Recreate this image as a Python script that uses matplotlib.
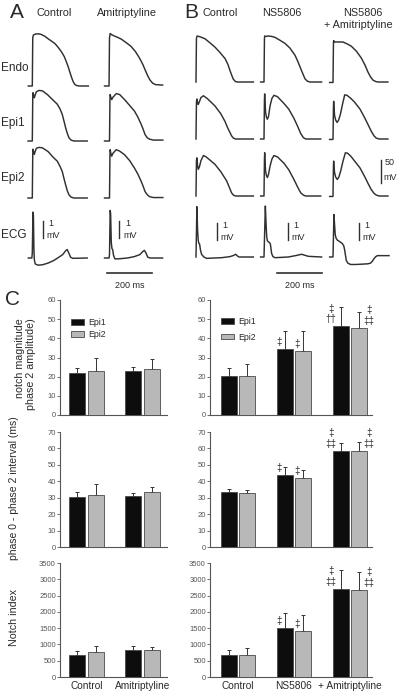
import matplotlib
matplotlib.use("Agg")
import matplotlib.pyplot as plt
from matplotlib.patches import Patch
import numpy as np

plt.rcParams['font.family'] = ['Liberation Sans', 'DejaVu Sans']

# ---- action potential traces, (ms from upstroke, mV) ----
a_ctrl_endo = [(-18, -85), (0, -85), (2, 20), (5, 26), (15, 28), (27, 28.5), (40, 27), (56, 23), (75, 16),
               (90, 11), (101, 7), (115, -1), (130, -11), (142, -21), (152, -33), (160, -44), (167, -55),
               (175, -67), (182, -76), (190, -82), (197, -84), (210, -85), (249, -85)]
a_ami_endo = [(-22, -85), (-2, -85), (0, 20), (3, 29), (8, 27), (20, 24), (35, 21), (52, 17), (75, 9),
              (96, 1), (115, -10), (133, -24), (148, -38), (160, -52), (170, -63), (180, -72), (192, -79),
              (205, -82), (236, -83)]
a_ctrl_epi1 = [(-19, -85), (0, -85), (2, 10), (3, 20), (6, 14), (9, 9), (12, 14), (18, 22), (30, 25),
               (45, 24), (67, 16), (90, 5), (111, -5), (123, -15), (133, -27), (141, -42), (148, -56),
               (156, -69), (163, -78), (172, -83), (185, -85), (244, -85)]
a_ami_epi1 = [(-22, -85), (0, -85), (2, 5), (3, 16), (6, 10), (10, 5), (15, 10), (30, 18), (45, 16),
              (67, 5), (90, -8), (111, -20), (126, -33), (141, -49), (150, -60), (158, -71), (168, -78),
              (178, -81), (195, -83), (237, -83)]
a_ctrl_epi2 = [(-19, -85), (0, -85), (2, 10), (3, 21), (6, 15), (9, 10), (12, 15), (18, 23), (30, 25),
               (45, 24), (70, 16), (92, 4), (111, -5), (123, -16), (133, -27), (141, -43), (148, -56),
               (156, -70), (163, -78), (172, -83), (185, -85), (244, -85)]
a_ami_epi2 = [(-22, -85), (0, -85), (2, 8), (3, 20), (6, 12), (10, 6), (15, 12), (30, 20), (45, 17),
              (67, 9), (90, -4), (111, -20), (126, -33), (141, -49), (150, -60), (158, -71), (168, -78),
              (178, -82), (195, -84), (237, -84)]
a_ctrl_ecg = [(-18, 0), (-2, 0), (0, 0.3), (3, 2.7), (5, 2.5), (7, 0.6), (9, -0.1), (13, -0.35), (25, -0.42),
              (45, -0.4), (70, -0.3), (95, -0.15), (115, 0.02), (135, 0.2), (148, 0.42), (155, 0.5),
              (162, 0.3), (170, 0.05), (180, -0.02), (244, 0)]
a_ami_ecg = [(-22, 0), (-2, 0), (0, 0.2), (3, 2.8), (5, 2.6), (8, 0.9), (11, 0.55), (14, 0.5), (18, 0.15),
             (24, -0.05), (40, -0.05), (80, 0), (110, 0.08), (135, 0.2), (148, 0.38), (155, 0.45),
             (162, 0.3), (170, 0.05), (180, 0), (236, 0)]

b_ctrl_endo = [(0, -85), (2, 10), (5, 15), (13, 14), (25, 12), (40, 9), (60, 1), (84, -9), (105, -20),
               (129, -34), (142, -47), (151, -60), (160, -72), (166, -79), (175, -84), (185, -85), (255, -85)]
b_ns_endo = [(-15, -85), (0, -85), (2, 10), (3, 15), (8, 14), (19, 15), (35, 14), (49, 12), (70, 6), (93, -1),
             (115, -11), (138, -27), (150, -40), (160, -52), (170, -64), (182, -78), (192, -83), (204, -85),
             (256, -85)]
b_nsami_endo = [(-15, -86), (0, -86), (2, 0), (3, 5), (6, 2), (15, 2), (30, 2), (44, 2), (62, -2), (81, -7),
                (104, -18), (126, -33), (142, -48), (155, -63), (167, -74), (178, -81), (190, -84),
                (200, -85), (244, -85)]
b_ctrl_epi1 = [(0, -85), (2, -5), (4, 2), (7, -6), (10, -10), (15, -4), (22, 5), (33, 9), (50, 3), (84, -13),
               (110, -30), (129, -47), (140, -60), (150, -70), (158, -78), (166, -83), (175, -85), (255, -85)]
b_ns_epi1 = [(-15, -85), (0, -85), (2, 0), (3, 13), (5, -10), (7, -27), (11, -38), (15, -42), (20, -36),
             (27, -13), (35, 3), (44, 10), (60, 7), (89, -8), (110, -20), (133, -40), (150, -58), (163, -73),
             (175, -82), (185, -85), (252, -85)]
b_nsami_epi1 = [(-15, -86), (0, -86), (2, -15), (3, -3), (5, -20), (7, -34), (12, -44), (18, -49), (25, -44),
                (33, -31), (42, -10), (52, 11), (62, 10), (80, 3), (96, -5), (120, -20), (141, -39),
                (156, -54), (170, -68), (182, -78), (192, -83), (205, -85), (244, -85)]
b_ctrl_epi2 = [(0, -85), (2, -8), (4, -2), (7, -18), (10, -27), (15, -22), (22, -8), (33, 3), (45, 0),
               (84, -16), (110, -32), (136, -52), (148, -66), (158, -78), (166, -83), (175, -85), (255, -85)]
b_ns_epi2 = [(-15, -85), (0, -85), (2, -5), (3, 9), (5, -15), (7, -31), (11, -41), (15, -45), (20, -38),
             (27, -20), (35, -5), (44, 3), (60, 0), (89, -14), (110, -28), (133, -49), (150, -66), (163, -78),
             (175, -83), (185, -85), (252, -85)]
b_nsami_epi2 = [(-15, -86), (0, -86), (2, -20), (3, -9), (5, -25), (7, -34), (12, -44), (19, -49), (26, -44),
                (34, -31), (44, -10), (55, 9), (65, 8), (80, 1), (96, -9), (120, -24), (141, -43), (156, -58),
                (170, -71), (182, -79), (192, -83), (205, -85), (244, -85)]
b_ctrl_ecg = [(0, 0), (2, 1.5), (4, 2.96), (7, 1.6), (10, 0.96), (13, 0.8), (16, 0.76), (20, 0.4), (25, 0.15),
              (35, 0), (47, -0.08), (80, -0.06), (114, -0.04), (150, 0.02), (165, 0.08), (176, 0.16),
              (185, 0.05), (191, 0), (255, 0)]
b_ns_ecg = [(-15, 0), (0, 0), (3, 1.5), (6, 3.0), (9, 2.0), (12, 1.2), (15, 0.95), (19, 0.9), (24, 0.85),
            (28, 0.78), (31, 0.5), (34, 0.2), (40, 0.02), (49, -0.04), (80, -0.02), (108, 0), (140, 0.08),
            (167, 0.16), (182, 0.1), (197, 0.04), (256, 0)]
b_nsami_ecg = [(-15, 0), (0, 0), (2, 1.2), (4, 2.5), (7, 1.9), (10, 1.3), (14, 1.1), (19, 1.0), (30, 0.9),
               (41, 0.8), (48, 0.65), (52, 0.4), (56, 0.05), (59, -0.2), (66, -0.36), (78, -0.44), (100, -0.44),
               (130, -0.42), (155, -0.4), (167, -0.36), (175, -0.25), (182, -0.1), (190, 0.02), (197, 0.08),
               (249, 0.08)]

# ---- panel C bar data (mean, SEM up) ----
groups_a = ["Control", "Amitriptyline"]
groups_b = ["Control", "NS5806", "+ Amitriptyline"]

notch_a_epi1 = [22.1, 23.0]
notch_a_epi1_err = [2.5, 2.2]
notch_a_epi2 = [23.1, 24.0]
notch_a_epi2_err = [6.5, 5.0]
notch_b_epi1 = [20.5, 34.4, 46.2]
notch_b_epi1_err = [3.8, 9.6, 10.1]
notch_b_epi2 = [20.5, 33.4, 45.6]
notch_b_epi2_err = [5.9, 10.6, 7.9]

interval_a_epi1 = [30.2, 31.2]
interval_a_epi1_err = [3.5, 1.9]
interval_a_epi2 = [31.6, 33.3]
interval_a_epi2_err = [6.8, 3.4]
interval_b_epi1 = [33.3, 43.9, 58.4]
interval_b_epi1_err = [2.0, 4.5, 4.9]
interval_b_epi2 = [32.7, 42.2, 58.4]
interval_b_epi2_err = [2.0, 4.7, 5.5]

index_a_epi1 = [690, 830]
index_a_epi1_err = [110, 120]
index_a_epi2 = [760, 830]
index_a_epi2_err = [200, 100]
index_b_epi1 = [690, 1510, 2690]
index_b_epi1_err = [140, 450, 580]
index_b_epi2 = [680, 1420, 2670]
index_b_epi2_err = [210, 490, 550]

notch_marks_epi1 = ["", "‡", "‡\n††"]
notch_marks_epi2 = ["", "‡", "‡\n‡‡"]
interval_marks_epi1 = ["", "‡", "‡\n‡‡"]
interval_marks_epi2 = ["", "‡", "‡\n‡‡"]
index_marks_epi1 = ["", "‡", "‡\n‡‡"]
index_marks_epi2 = ["", "‡", "‡\n‡‡"]

W, H = 400, 695
MS_PX = 200 / 45.0   # ms per pixel
MV_PX = 50 / 23.0    # mV per pixel (AP)
ECG_PX = 1 / 17.0    # mV per pixel (ECG)
TRACE_C = '#303030'
TEXT_C = '#2a2a2a'

fig = plt.figure(figsize=(4, 6.95), dpi=100)


def fx(x):
    return x / W


def fy(y):
    return 1 - y / H


def trace(x_up, y_rest, pts, ecg=False):
    t0, t1 = -25, 265
    if ecg:
        lo, hi, rest, scale = -1.6, 3.6, 0, ECG_PX
    else:
        lo, hi, rest, scale = -100, 40, -85, MV_PX
    x0 = x_up + t0 / MS_PX
    x1 = x_up + t1 / MS_PX
    ybot = y_rest + (rest - lo) / scale
    ytop = y_rest - (hi - rest) / scale
    ax = fig.add_axes([fx(x0), fy(ybot), (x1 - x0) / W, (ybot - ytop) / H])
    ax.set_xlim(t0, t1)
    ax.set_ylim(lo, hi)
    ax.axis('off')
    ax.patch.set_alpha(0)
    t, v = zip(*pts)
    ax.plot(t, v, color=TRACE_C, lw=1.05, solid_joinstyle='round', clip_on=False)
    return ax


# panel A / B traces: upstroke x and resting-line y, in pixels
cols_a = [32.3, 109.5]
rows_a = [86, 141, 198, 258]
cols_b = [196, 264, 333]
rows_b = [82, 139, 196, 257]

a_sets = [[a_ctrl_endo, a_ctrl_epi1, a_ctrl_epi2, a_ctrl_ecg],
          [a_ami_endo, a_ami_epi1, a_ami_epi2, a_ami_ecg]]
b_sets = [[b_ctrl_endo, b_ctrl_epi1, b_ctrl_epi2, b_ctrl_ecg],
          [b_ns_endo, b_ns_epi1, b_ns_epi2, b_ns_ecg],
          [b_nsami_endo, b_nsami_epi1, b_nsami_epi2, b_nsami_ecg]]

ecg_axes = {}
ap_axes = {}
for cols, rows, sets, tag in [(cols_a, rows_a, a_sets, 'a'), (cols_b, rows_b, b_sets, 'b')]:
    for ci, xu in enumerate(cols):
        for ri, yr in enumerate(rows):
            ax = trace(xu, yr, sets[ci][ri], ecg=(ri == 3))
            if ri == 3:
                ecg_axes[(tag, ci)] = ax
            else:
                ap_axes[(tag, ci, ri)] = ax

# 1 mV scale bars
mv_bars = [(('a', 0), 47, 1.2), (('a', 1), 44, 1.2), (('b', 0), 92, 1.0), (('b', 1), 105, 1.0), (('b', 2), 115, 1.0)]
for key, t, y0 in mv_bars:
    ax = ecg_axes[key]
    ax.plot([t, t], [y0, y0 + 1], color=TRACE_C, lw=1.0, clip_on=False)
    ax.text(t + 36, y0 + 0.85, "1", fontsize=6.5, ha='center', va='center', color=TEXT_C)
    ax.text(t + 16, y0 + 0.15, "mV", fontsize=6.5, ha='left', va='center', color=TEXT_C)

# 200 ms scale bars
ax = ecg_axes[('a', 1)]
ax.plot([-9, 191], [-0.9, -0.9], color=TRACE_C, lw=1.2, clip_on=False)
ax.text(91, -1.6, "200 ms", fontsize=6.5, ha='center', va='center', color=TEXT_C)
ax = ecg_axes[('b', 1)]
ax.plot([58, 258], [-0.94, -0.94], color=TRACE_C, lw=1.2, clip_on=False)
ax.text(158, -1.65, "200 ms", fontsize=6.5, ha='center', va='center', color=TEXT_C)

# 50 mV scale bar
ax = ap_axes[('b', 2, 2)]
ax.plot([213, 213], [-57, -7], color=TRACE_C, lw=1.0, clip_on=False)
ax.text(253, -13, "50", fontsize=6.5, ha='center', va='center', color=TEXT_C)
ax.text(253, -45, "mV", fontsize=6.5, ha='center', va='center', color=TEXT_C)

# headers and row labels
fig.text(fx(17), fy(12), "A", fontsize=15, ha='center', va='center', color=TEXT_C)
fig.text(fx(191), fy(12), "B", fontsize=15, ha='center', va='center', color=TEXT_C)
fig.text(fx(12), fy(299), "C", fontsize=15, ha='center', va='center', color=TEXT_C)
for x, s in [(54, "Control"), (127, "Amitriptyline"), (220, "Control"), (282, "NS5806"), (363, "NS5806")]:
    fig.text(fx(x), fy(13), s, fontsize=7.8, ha='center', va='center', color=TEXT_C)
fig.text(fx(358), fy(25), "+ Amitriptyline", fontsize=7.8, ha='center', va='center', color=TEXT_C)
for y, s in [(68, "Endo"), (123, "Epi1"), (178, "Epi2"), (235, "ECG")]:
    fig.text(fx(1), fy(y), s, fontsize=8.5, ha='left', va='center', color=TEXT_C)

# ---- panel C ----
EPI1_C = '#0d0d0d'
EPI2_C = '#b8b8b8'
EDGE_C = '#4a4a4a'
AX_C = '#555555'
GROUP_PX = 56.0   # pixels between group centres


def bar_panel(rect, first_px, groups, v1, e1, v2, e2, ymax, step, m1=None, m2=None, xlabels=False):
    x0, x1, ytop, ybot = rect
    ax = fig.add_axes([fx(x0), fy(ybot), (x1 - x0) / W, (ybot - ytop) / H])
    pos = np.arange(len(groups))
    off, bw = 0.166, 0.285
    ax.bar(pos - off, v1, width=bw, color=EPI1_C, edgecolor=EDGE_C, linewidth=0.6, zorder=3)
    ax.bar(pos + off, v2, width=bw, color=EPI2_C, edgecolor=EDGE_C, linewidth=0.6, zorder=3)
    for xs, vs, es in [(pos - off, v1, e1), (pos + off, v2, e2)]:
        ax.errorbar(xs, vs, yerr=[np.zeros(len(es)), es], fmt='none', ecolor='#333333',
                    elinewidth=0.7, capsize=1.6, capthick=0.7, zorder=2)
    for marks, xs, vs, series in [(m1, pos - off, v1, 1), (m2, pos + off, v2, 2)]:
        if marks is None:
            continue
        for gi, s in enumerate(marks):
            if not s:
                continue
            wide = max(len(p) for p in s.split("\n")) > 1
            dx = 9.5 if wide else 6.0
            side = 1 if (series == 2 and gi == len(groups) - 1) else -1
            ax.annotate(s, (xs[gi], vs[gi]), xytext=(side * dx * 0.72, 1.5), textcoords='offset points',
                        ha='center', va='bottom', fontsize=7, color=TEXT_C, linespacing=1.1,
                        annotation_clip=False)
    ax.set_ylim(0, ymax)
    ax.set_yticks(np.arange(0, ymax + step / 2, step))
    ax.set_xlim((x0 - first_px) / GROUP_PX, (x1 - first_px) / GROUP_PX)
    ax.set_xticks(pos)
    if xlabels:
        ax.set_xticklabels(groups, fontsize=7.3, color=TEXT_C)
    else:
        ax.set_xticklabels([])
    for sp in ['top', 'right']:
        ax.spines[sp].set_visible(False)
    for sp in ['left', 'bottom']:
        ax.spines[sp].set_color(AX_C)
        ax.spines[sp].set_linewidth(0.8)
    ax.tick_params(axis='y', direction='out', length=2, width=0.6, colors=AX_C, labelsize=5.5, pad=1)
    ax.tick_params(axis='x', length=0, pad=3)
    return ax


def add_legend(ax, anchor, spacing):
    ax.legend(handles=[Patch(facecolor=EPI1_C, edgecolor=EDGE_C, lw=0.6, label="Epi1"),
                       Patch(facecolor=EPI2_C, edgecolor=EDGE_C, lw=0.6, label="Epi2")],
              loc='upper left', bbox_to_anchor=anchor, frameon=False, fontsize=6.3,
              handlelength=1.5, handleheight=0.6, handletextpad=0.5, labelspacing=spacing,
              borderpad=0, labelcolor=TEXT_C)


rows_c = [(300, 415), (432, 547), (563, 677)]
left_x = (60, 167)
right_x = (210, 372)

ax = bar_panel((*left_x, *rows_c[0]), 86.5, groups_a, notch_a_epi1, notch_a_epi1_err,
               notch_a_epi2, notch_a_epi2_err, 60, 10)
add_legend(ax, (0.06, 0.88), 0.35)
ax = bar_panel((*right_x, *rows_c[0]), 238, groups_b, notch_b_epi1, notch_b_epi1_err,
               notch_b_epi2, notch_b_epi2_err, 60, 10, notch_marks_epi1, notch_marks_epi2)
add_legend(ax, (0.04, 0.89), 0.75)

bar_panel((*left_x, *rows_c[1]), 86.5, groups_a, interval_a_epi1, interval_a_epi1_err,
          interval_a_epi2, interval_a_epi2_err, 70, 10)
bar_panel((*right_x, *rows_c[1]), 238, groups_b, interval_b_epi1, interval_b_epi1_err,
          interval_b_epi2, interval_b_epi2_err, 70, 10, interval_marks_epi1, interval_marks_epi2)

bar_panel((*left_x, *rows_c[2]), 86.5, groups_a, index_a_epi1, index_a_epi1_err,
          index_a_epi2, index_a_epi2_err, 3500, 500, xlabels=True)
bar_panel((*right_x, *rows_c[2]), 238, groups_b, index_b_epi1, index_b_epi1_err,
          index_b_epi2, index_b_epi2_err, 3500, 500, index_marks_epi1, index_marks_epi2, xlabels=True)

# y labels
fig.text(fx(25.5), fy(318), "notch magnitude\nphase 2 amplitude)", rotation=90, fontsize=7.7,
         ha='center', va='top', multialignment='right', color=TEXT_C, linespacing=1.15)
fig.text(fx(14), fy(488), "phase 0 - phase 2 interval (ms)", rotation=90, fontsize=7.5,
         ha='center', va='center', color=TEXT_C)
fig.text(fx(14), fy(618), "Notch index", rotation=90, fontsize=7.7,
         ha='center', va='center', color=TEXT_C)

fig.savefig("out.png", dpi=100)
